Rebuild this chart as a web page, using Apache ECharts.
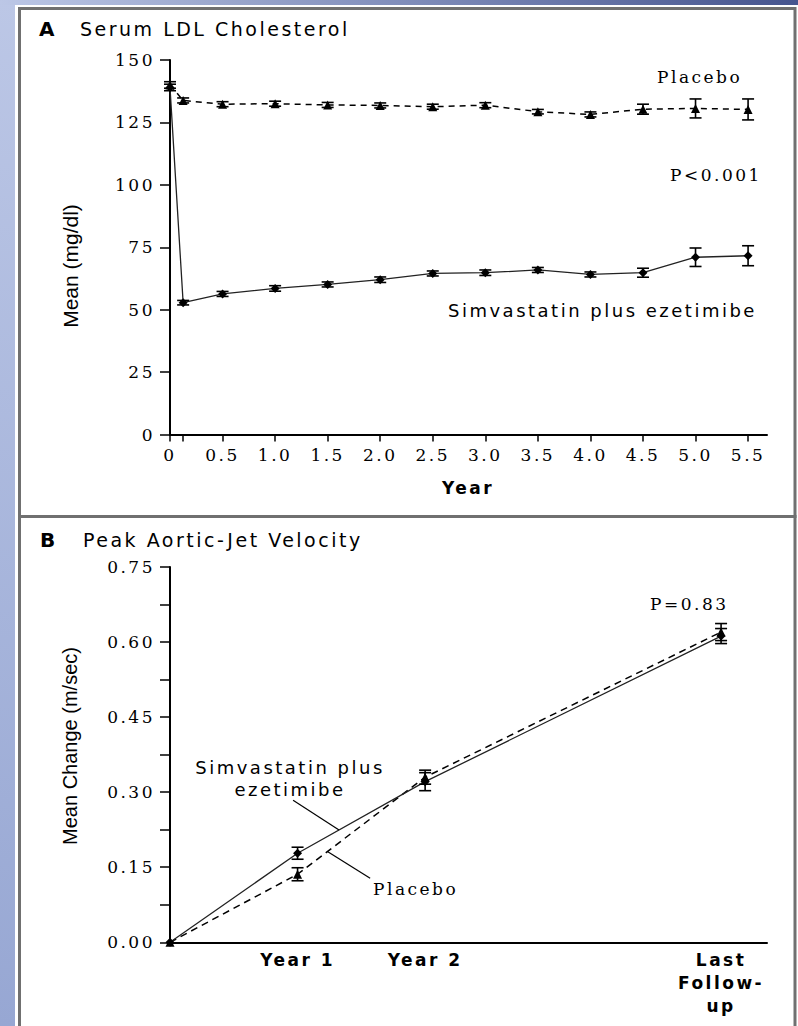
<!DOCTYPE html>
<html>
<head>
<meta charset="utf-8">
<script src="https://cdn.jsdelivr.net/npm/echarts@6/dist/echarts.min.js"></script>
<style>
html,body{margin:0;padding:0;background:#fff;}
#main{width:798px;height:1026px;}
#main svg text{letter-spacing:2.5px;}
#main svg text[style*="Narrow"]{letter-spacing:0;}
</style>
</head>
<body>
<div id="main"></div>
<script>
// ---- Panel A: Serum LDL cholesterol (mg/dl) ----
var xA = [0, 0.125, 0.5, 1.0, 1.5, 2.0, 2.5, 3.0, 3.5, 4.0, 4.5, 5.0, 5.5];
var placeboA = [140.0, 133.8, 132.3, 132.5, 132.0, 131.8, 131.3, 131.9, 129.3, 128.2, 130.3, 130.6, 130.2];
var placeboErrA = [1.3, 1.0, 1.0, 1.0, 1.0, 1.0, 1.0, 1.0, 0.9, 1.0, 2.0, 3.8, 4.2];
var simvaA = [139.0, 52.8, 56.3, 58.5, 60.1, 62.0, 64.5, 64.8, 65.9, 64.1, 64.8, 71.0, 71.6];
var simvaErrA = [1.3, 0.9, 1.0, 1.1, 1.0, 1.1, 1.0, 1.1, 1.0, 1.0, 1.8, 3.7, 4.0];
var xTicksA = [0, 0.125, 0.5, 1.0, 1.5, 2.0, 2.5, 3.0, 3.5, 4.0, 4.5, 5.0, 5.5];
var xLabelsA = [0, 0.5, 1.0, 1.5, 2.0, 2.5, 3.0, 3.5, 4.0, 4.5, 5.0, 5.5];
var yTicksA = [0, 25, 50, 75, 100, 125, 150];

// ---- Panel B: Peak aortic-jet velocity, mean change (m/sec) ----
var xB = [0, 1, 2, 4.32];
var xLabelsB = ['', 'Year 1', 'Year 2', 'Last\nFollow-\nup'];
var placeboB = [0, 0.136, 0.330, 0.620];
var placeboErrB = [0, 0.013, 0.014, 0.017];
var simvaB = [0, 0.178, 0.321, 0.612];
var simvaErrB = [0, 0.012, 0.018, 0.015];
var yTicksB = [0, 0.075, 0.15, 0.225, 0.30, 0.375, 0.45, 0.525, 0.60, 0.675, 0.75];
var yLabelsB = [0, 0.15, 0.30, 0.45, 0.60, 0.75];
// leader lines (data coordinates of panel B)
var leaderSimva = [[0.965, 0.284], [1.325, 0.2245]];
var leaderPlacebo = [[1.231, 0.182], [1.569, 0.128]];

function pairs(xs, ys) { return xs.map(function (x, i) { return [x, ys[i]]; }); }
function errs(xs, ys, es) {
  var out = [];
  xs.forEach(function (x, i) { if (es[i] > 0) out.push([x, ys[i] - es[i], ys[i] + es[i]]); });
  return out;
}
function renderErr(params, api) {
  var x = api.value(0), lo = api.value(1), hi = api.value(2);
  var p1 = api.coord([x, lo]), p2 = api.coord([x, hi]);
  var w = 6;
  var st = { stroke: '#000', lineWidth: 1.6 };
  return { type: 'group', children: [
    { type: 'line', shape: { x1: p1[0], y1: p1[1], x2: p2[0], y2: p2[1] }, style: st },
    { type: 'line', shape: { x1: p1[0] - w, y1: p1[1], x2: p1[0] + w, y2: p1[1] }, style: st },
    { type: 'line', shape: { x1: p2[0] - w, y1: p2[1], x2: p2[0] + w, y2: p2[1] }, style: st }
  ]};
}

var serif = 'DejaVu Serif';
var sans = 'DejaVu Sans';
var narrow = "'Liberation Sans Narrow', 'Liberation Sans'";

var chart = echarts.init(document.getElementById('main'), null, { renderer: 'svg' });

var axisLineStyle = { show: true, lineStyle: { color: '#000', width: 2 } };
var tickStyle = { color: '#000', width: 1.5 };

var option = {
  backgroundColor: '#fff',
  animation: false,
  grid: [
    { left: 170, top: 60, width: 597, height: 374.5, containLabel: false },
    { left: 170, top: 567, width: 597, height: 375.3, containLabel: false }
  ],
  xAxis: [
    { gridIndex: 0, type: 'value', min: 0, max: 5.68,
      axisLine: axisLineStyle,
      axisTick: { show: true, inside: false, length: 7, lineStyle: tickStyle, customValues: xTicksA },
      axisLabel: { show: true, customValues: xLabelsA, margin: 12, color: '#000', fontFamily: serif, fontSize: 17,
        formatter: function (v) { return v === 0 ? '0' : v.toFixed(1); } },
      splitLine: { show: false } },
    { gridIndex: 1, type: 'value', min: 0, max: 4.68,
      axisLine: axisLineStyle,
      axisTick: { show: false },
      axisLabel: { show: true, customValues: xB.slice(1), margin: 6, color: '#000', fontFamily: sans, fontSize: 17,
        fontWeight: 'bold', lineHeight: 23, verticalAlign: 'top',
        formatter: function (v) { var i = xB.indexOf(v); return i >= 0 ? xLabelsB[i] : ''; } },
      splitLine: { show: false } }
  ],
  yAxis: [
    { gridIndex: 0, type: 'value', min: 0, max: 150,
      axisLine: axisLineStyle,
      axisTick: { show: true, inside: false, length: 10, lineStyle: tickStyle, customValues: yTicksA },
      axisLabel: { show: true, customValues: yTicksA, margin: 15, color: '#000', fontFamily: serif, fontSize: 17 },
      splitLine: { show: false } },
    { gridIndex: 1, type: 'value', min: 0, max: 0.75,
      axisLine: axisLineStyle,
      axisTick: { show: true, inside: false, length: 10, lineStyle: tickStyle, customValues: yTicksB },
      axisLabel: { show: true, customValues: yLabelsB, margin: 15, color: '#000', fontFamily: serif, fontSize: 17,
        formatter: function (v) { return v.toFixed(2); } },
      splitLine: { show: false } }
  ],
  series: [
    // Panel A
    { type: 'line', xAxisIndex: 0, yAxisIndex: 0, name: 'Placebo', data: pairs(xA, placeboA),
      symbol: 'triangle', symbolSize: 9, itemStyle: { color: '#000' },
      lineStyle: { color: '#000', width: 1.5, type: [6, 5] }, z: 3 },
    { type: 'line', xAxisIndex: 0, yAxisIndex: 0, name: 'Simvastatin plus ezetimibe', data: pairs(xA, simvaA),
      symbol: 'diamond', symbolSize: 9, itemStyle: { color: '#000' },
      lineStyle: { color: '#222', width: 1.3 }, z: 3 },
    { type: 'custom', xAxisIndex: 0, yAxisIndex: 0, renderItem: renderErr, data: errs(xA, placeboA, placeboErrA), z: 4 },
    { type: 'custom', xAxisIndex: 0, yAxisIndex: 0, renderItem: renderErr, data: errs(xA, simvaA, simvaErrA), z: 4 },
    // Panel B
    { type: 'line', xAxisIndex: 1, yAxisIndex: 1, name: 'Placebo', data: pairs(xB, placeboB),
      symbol: 'triangle', symbolSize: 9, itemStyle: { color: '#000' },
      lineStyle: { color: '#000', width: 1.5, type: [7, 5] }, z: 3 },
    { type: 'line', xAxisIndex: 1, yAxisIndex: 1, name: 'Simvastatin plus ezetimibe', data: pairs(xB, simvaB),
      symbol: 'diamond', symbolSize: 9, itemStyle: { color: '#000' },
      lineStyle: { color: '#222', width: 1.3 }, z: 3,
      markLine: { silent: true, symbol: 'none', label: { show: false },
        lineStyle: { color: '#000', width: 1.2, type: 'solid' },
        data: [
          [{ coord: leaderSimva[0] }, { coord: leaderSimva[1] }],
          [{ coord: leaderPlacebo[0] }, { coord: leaderPlacebo[1] }]
        ] } },
    { type: 'custom', xAxisIndex: 1, yAxisIndex: 1, renderItem: renderErr, data: errs(xB, placeboB, placeboErrB), z: 4 },
    { type: 'custom', xAxisIndex: 1, yAxisIndex: 1, renderItem: renderErr, data: errs(xB, simvaB, simvaErrB), z: 4 }
  ],
  graphic: [
    // background strips
    { type: 'rect', z: -10, shape: { x: 0, y: 0, width: 15, height: 1026 },
      style: { fill: new echarts.graphic.LinearGradient(0, 0, 0, 1, [{ offset: 0, color: '#bcc7e6' }, { offset: 1, color: '#97a7d3' }]) } },
    { type: 'rect', z: -10, shape: { x: 0, y: 0, width: 798, height: 5 },
      style: { fill: new echarts.graphic.LinearGradient(0, 0, 1, 0, [{ offset: 0, color: '#bcc7e6' }, { offset: 1, color: '#46558f' }]) } },
    // panel frames
    { type: 'rect', z: -5, shape: { x: 19.5, y: 8.5, width: 775.5, height: 508 },
      style: { fill: 'none', stroke: '#707070', lineWidth: 3 } },
    { type: 'rect', z: -5, shape: { x: 19.5, y: 516.5, width: 775.5, height: 520 },
      style: { fill: 'none', stroke: '#707070', lineWidth: 3 } },
    // titles
    { type: 'text', x: 39, y: 29, style: { text: 'A', fontFamily: sans, fontWeight: 'bold', fontSize: 20, fill: '#000', verticalAlign: 'middle' } },
    { type: 'text', x: 80, y: 29, style: { text: 'Serum LDL Cholesterol', fontFamily: sans, fontSize: 19, fill: '#000', verticalAlign: 'middle' } },
    { type: 'text', x: 40, y: 540, style: { text: 'B', fontFamily: sans, fontWeight: 'bold', fontSize: 20, fill: '#000', verticalAlign: 'middle' } },
    { type: 'text', x: 83, y: 540, style: { text: 'Peak Aortic-Jet Velocity', fontFamily: sans, fontSize: 19, fill: '#000', verticalAlign: 'middle' } },
    // axis names
    { type: 'text', x: 70, y: 266, rotation: Math.PI / 2,
      style: { text: 'Mean (mg/dl)', fontFamily: narrow, fontSize: 21, fill: '#000', align: 'center', verticalAlign: 'middle' } },
    { type: 'text', x: 70, y: 746, rotation: Math.PI / 2,
      style: { text: 'Mean Change (m/sec)', fontFamily: narrow, fontSize: 20, fill: '#000', align: 'center', verticalAlign: 'middle' } },
    { type: 'text', x: 468, y: 488,
      style: { text: 'Year', fontFamily: sans, fontWeight: 'bold', fontSize: 17, fill: '#000', align: 'center', verticalAlign: 'middle' } },
    // annotations A
    { type: 'text', x: 657, y: 77, style: { text: 'Placebo', fontFamily: serif, fontSize: 17, fill: '#000', verticalAlign: 'middle' } },
    { type: 'text', x: 670, y: 175, style: { text: 'P<0.001', fontFamily: serif, fontSize: 17, fill: '#000', verticalAlign: 'middle' } },
    { type: 'text', x: 448, y: 310, style: { text: 'Simvastatin plus ezetimibe', fontFamily: sans, fontSize: 18, fill: '#000', verticalAlign: 'middle' } },
    // annotations B
    { type: 'text', x: 650, y: 604, style: { text: 'P=0.83', fontFamily: serif, fontSize: 17, fill: '#000', verticalAlign: 'middle' } },
    { type: 'text', x: 290, y: 767, style: { text: 'Simvastatin plus', fontFamily: sans, fontSize: 18, fill: '#000', align: 'center', verticalAlign: 'middle' } },
    { type: 'text', x: 290, y: 789, style: { text: 'ezetimibe', fontFamily: sans, fontSize: 18, fill: '#000', align: 'center', verticalAlign: 'middle' } },
    { type: 'text', x: 373, y: 889, style: { text: 'Placebo', fontFamily: serif, fontSize: 17, fill: '#000', verticalAlign: 'middle' } }
  ]
};
chart.setOption(option);
</script>
</body>
</html>
